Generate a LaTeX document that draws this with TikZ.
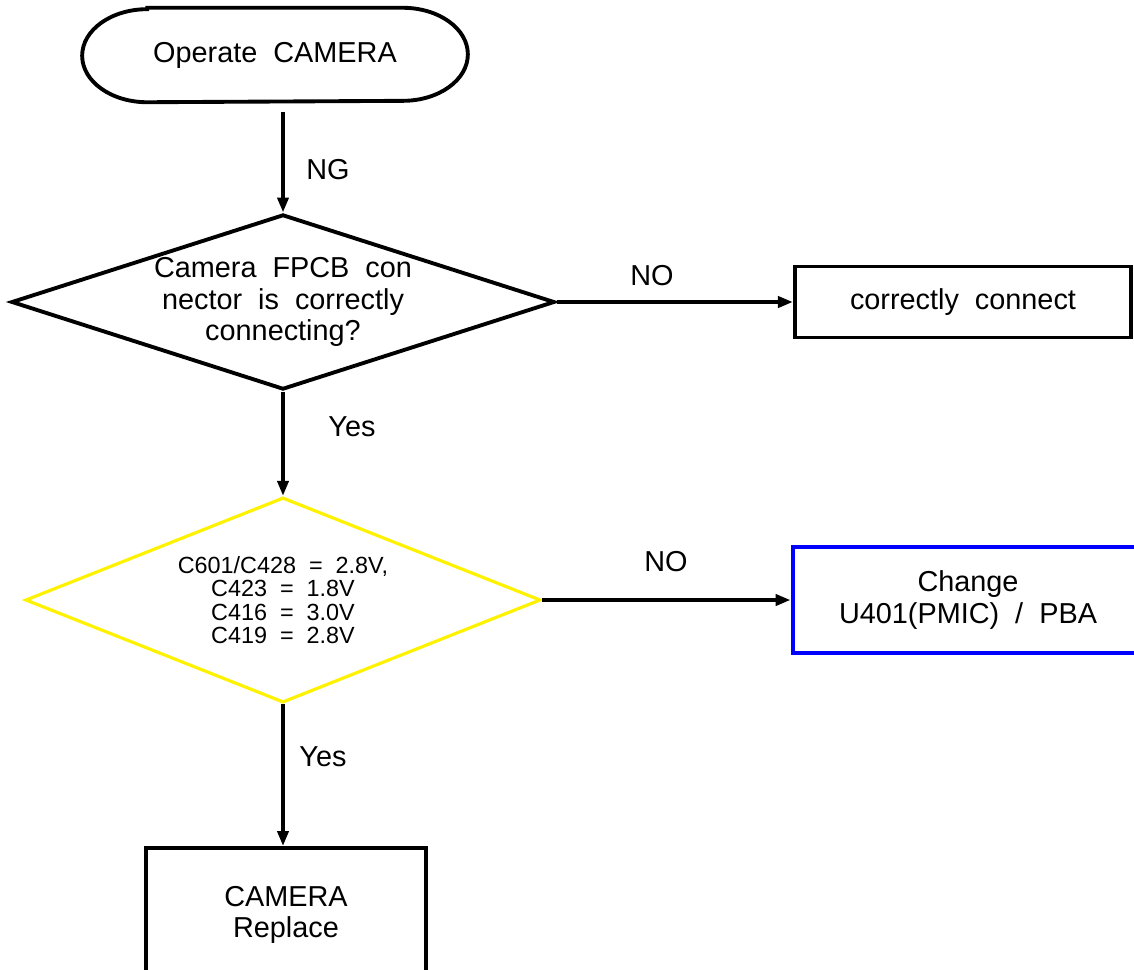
\documentclass[tikz,border=0pt]{standalone}
\usepackage{fontspec}
\setmainfont{Liberation Sans}
\usetikzlibrary{arrows.meta,calc,shapes.geometric}

\begin{document}
\begin{tikzpicture}[
    x=0.01cm, y=-0.01cm,
    flow/.style={-{Triangle[length=1.5mm, width=1.1mm]}, line width=1.1pt},
    txt/.style={font=\fontsize{8.2}{8.9}\selectfont, align=center, inner sep=0pt},
    small/.style={font=\fontsize{6.65}{6.7}\selectfont, align=center, inner sep=0pt},
    terminal/.style={txt, minimum width=3.84cm, minimum height=0.93cm},
    decision/.style={diamond, draw, line width=1.1pt, inner sep=0pt},
    action/.style={txt, draw, line width=1.1pt}
]
\useasboundingbox (0,0) rectangle (1134,969);
\node[terminal] (start) at (275,55) {Operate\ \ CAMERA};
\draw[line width=1.1pt] ($(start.north west)+(65,0)$) -- ($(start.north east)+(-65,0)$)
    arc[start angle=90, end angle=-90, x radius=0.65cm, y radius=0.465cm]
    -- ($(start.south west)+(65,0)$)
    arc[start angle=270, end angle=90, x radius=0.65cm, y radius=0.465cm] -- cycle;
\coordinate (startout) at (283,112);
\node[decision, txt, draw, line width=1.1pt, aspect=3.1, minimum width=5.43cm, minimum height=1.75cm] (conn) at (283,302)
    {Camera\ \ FPCB\ \ con\\nector\ \ is\ \ correctly\\connecting?};
\node[action, minimum width=3.36cm, minimum height=0.71cm] (fix) at (963,302) {correctly\ \ connect};
\node[decision, small, draw=yellow, line width=0.9pt, aspect=2.5, minimum width=5.15cm, minimum height=2.05cm] (volt) at (283,600)
    {C601/C428\ \ =\ \ 2.8V,\\C423\ \ =\ \ 1.8V\\C416\ \ =\ \ 3.0V\\C419\ \ =\ \ 2.8V};
\node[action, draw=blue, line width=1.3pt, minimum width=3.5cm, minimum height=1.06cm] (pmic) at (968,600)
    {Change\\U401(PMIC)\ \ /\ \ PBA};
\node[action, minimum width=2.79cm, minimum height=1.34cm] (cam) at (286,915) {CAMERA\\Replace};
\draw[flow] (startout) -- (conn.north);
\draw[flow] (conn.east) -- (fix.west);
\draw[flow] (conn.south) -- (volt.north);
\draw[flow] (volt.east) -- (pmic.west);
\draw[flow] (volt.south) -- (volt.south |- cam.north);
\node[txt] (ng) at (328,170) {NG};
\node[txt] (no1) at (652,276) {NO};
\node[txt] (yes1) at (352,427) {Yes};
\node[txt] (no2) at (666,562) {NO};
\node[txt] (yes2) at (323,757) {Yes};
\end{tikzpicture}
\end{document}
